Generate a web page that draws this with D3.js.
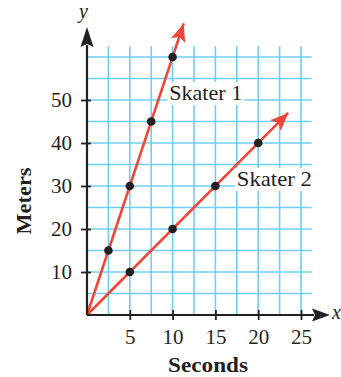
<!DOCTYPE html>
<html>
<head>
<meta charset="utf-8">
<script src="https://cdn.jsdelivr.net/npm/d3@7"></script>
<style>
  html, body { margin: 0; padding: 0; background: #fff; }
  svg { display: block; }
  text { font-family: "Liberation Serif", "Times New Roman", serif; fill: #231f20; }
</style>
</head>
<body>
<svg id="chart" width="341" height="377"></svg>
<script>
// ---- data ----
const xTicks = [5, 10, 15, 20, 25];
const yTicks = [10, 20, 30, 40, 50];
const skater1 = [[2.5, 15], [5, 30], [7.5, 45], [10, 60]];
const skater2 = [[5, 10], [10, 20], [15, 30], [20, 40]];
const skater1End = [11.3, 67.8];
const skater2End = [23.5, 47];
const seriesNames = ["Skater 1", "Skater 2"];
const labelAnchors = [[9.6, 50], [17.5, 30]];
const xTitle = "Seconds";
const yTitle = "Meters";

// ---- layout ----
const svg = d3.select("#chart");
const x = d3.scaleLinear().domain([0, 25]).range([87, 301]);
const y = d3.scaleLinear().domain([0, 50]).range([315, 100]);

const gridColor = "#6fcff4";
const red = "#ef4638";
const ink = "#231f20";

// grid
const gx = d3.range(2.5, 25.01, 2.5);
const gy = d3.range(5, 60.01, 5);
const grid = svg.append("g");
grid.selectAll(".vg").data(gx).join("line")
  .attr("x1", d => x(d)).attr("x2", d => x(d))
  .attr("y1", y(0)).attr("y2", y(62.5))
  .attr("stroke", gridColor).attr("stroke-width", 1.6);
grid.selectAll(".hg").data(gy).join("line")
  .attr("x1", x(0)).attr("x2", x(26.25))
  .attr("y1", d => y(d)).attr("y2", d => y(d))
  .attr("stroke", gridColor).attr("stroke-width", 1.6);

// markers
const defs = svg.append("defs");
defs.append("marker").attr("id", "redArrow")
  .attr("viewBox", "-20 -10 22 20").attr("refX", 0).attr("refY", 0)
  .attr("markerUnits", "userSpaceOnUse")
  .attr("markerWidth", 22).attr("markerHeight", 20).attr("orient", "auto")
  .append("path").attr("d", "M0,0 L-18,-7.5 L-14,0 L-18,7.5 Z").attr("fill", red);

const labelsG = svg.append("g");

// lines
const lineGen = d3.line().x(d => x(d[0])).y(d => y(d[1]));
[[[0, 0], skater1End], [[0, 0], skater2End]].forEach(seg => {
  svg.append("path").attr("d", lineGen(seg))
    .attr("fill", "none").attr("stroke", red).attr("stroke-width", 2.6)
    .attr("marker-end", "url(#redArrow)");
});

// labels
const labelWidths = [73, 75];
seriesNames.forEach((name, i) => {
  const t = labelsG.append("text")
    .attr("x", x(labelAnchors[i][0])).attr("y", y(labelAnchors[i][1]))
    .attr("font-size", 22).attr("textLength", labelWidths[i]).attr("lengthAdjust", "spacingAndGlyphs")
    .text(name);
  const b = t.node().getBBox();
  labelsG.insert("rect", "text")
    .attr("x", b.x - 2).attr("y", b.y + 2).attr("width", b.width + 4).attr("height", b.height - 2)
    .attr("fill", "#fff");
});

// axes
const axisX = d3.axisBottom(x).tickValues(xTicks).tickSize(5).tickPadding(10).tickFormat(d3.format("d"));
const axisY = d3.axisLeft(y).tickValues(yTicks).tickSize(6).tickPadding(9).tickFormat(d3.format("d"));

const ax = svg.append("g").attr("transform", `translate(0,${y(0)})`).call(axisX);
ax.select(".domain").remove();
ax.selectAll(".tick line").attr("y1", -5).attr("y2", 5).attr("stroke", ink).attr("stroke-width", 1.8);
ax.selectAll(".tick text").attr("font-size", 21).attr("font-family", "Liberation Serif").attr("fill", ink).attr("dy", "0.68em");

const ay = svg.append("g").attr("transform", `translate(${x(0)},0)`).call(axisY);
ay.select(".domain").remove();
ay.selectAll(".tick line").attr("x1", -6).attr("x2", 4).attr("stroke", ink).attr("stroke-width", 1.8);
ay.selectAll(".tick text").attr("font-size", 21).attr("font-family", "Liberation Serif").attr("fill", ink);

// axis lines with arrows
svg.append("line").attr("x1", x(0)).attr("x2", 314).attr("y1", y(0)).attr("y2", y(0))
  .attr("stroke", ink).attr("stroke-width", 2.2);
svg.append("path").attr("d", `M330,${y(0)} L312,${y(0) - 6.5} L315,${y(0)} L312,${y(0) + 6.5} Z`).attr("fill", ink);
svg.append("line").attr("x1", x(0)).attr("x2", x(0)).attr("y1", y(0)).attr("y2", 45)
  .attr("stroke", ink).attr("stroke-width", 2.2);
svg.append("path").attr("d", `M${x(0)},27 L${x(0) - 6.5},47 L${x(0)},44 L${x(0) + 6.5},47 Z`).attr("fill", ink);

// axis letters
svg.append("text").attr("x", 332).attr("y", 319).attr("font-size", 20).attr("font-style", "italic").text("x");
svg.append("text").attr("x", 79).attr("y", 18).attr("font-size", 20).attr("font-style", "italic").text("y");

// points
svg.append("g").selectAll("circle").data(skater1.concat(skater2)).join("circle")
  .attr("cx", d => x(d[0])).attr("cy", d => y(d[1])).attr("r", 4.3).attr("fill", ink);

// titles
svg.append("text").attr("x", 208).attr("y", 372).attr("text-anchor", "middle")
  .attr("font-size", 22).attr("font-weight", "bold")
  .attr("textLength", 80).attr("lengthAdjust", "spacingAndGlyphs").text(xTitle);
svg.append("text").attr("transform", "translate(31,201) rotate(-90)").attr("text-anchor", "middle")
  .attr("font-size", 22).attr("font-weight", "bold")
  .attr("textLength", 67).attr("lengthAdjust", "spacingAndGlyphs").text(yTitle);
</script>
</body>
</html>
